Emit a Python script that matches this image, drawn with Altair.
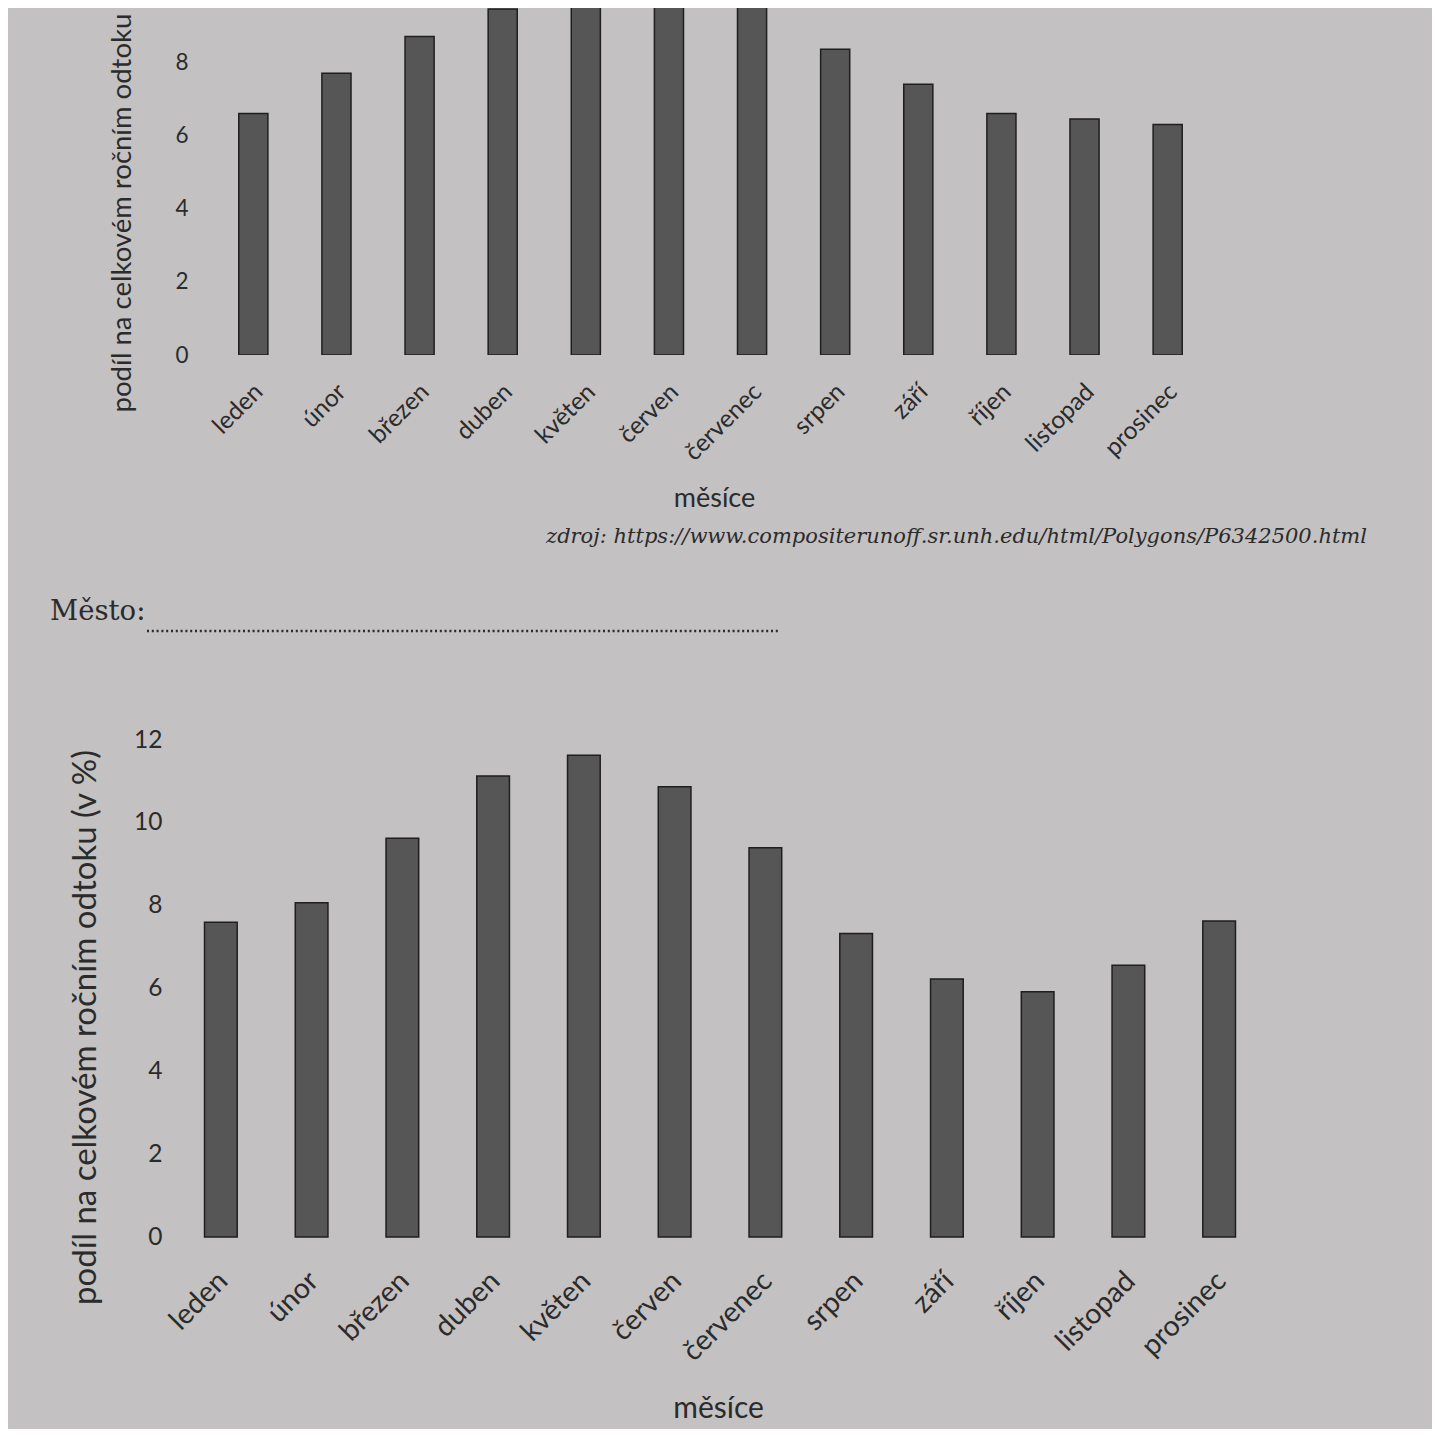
import altair as alt
import pandas as pd

# ---- data ----
months = ["leden", "únor", "březen", "duben", "květen", "červen",
          "červenec", "srpen", "září", "říjen", "listopad", "prosinec"]
top_values = [6.6, 7.7, 8.7, 9.45, 11.6, 11.4, 9.5, 8.35, 7.4, 6.6, 6.45, 6.3]
bottom_values = [7.6, 8.07, 9.63, 11.13, 11.63, 10.87, 9.4, 7.33, 6.23, 5.92, 6.56, 7.63]
top_ticks = [0, 2, 4, 6, 8]
bottom_ticks = [0, 2, 4, 6, 8, 10, 12]
top_y_title = "podíl na celkovém ročním odtoku"
bottom_y_title = "podíl na celkovém ročním odtoku (v %)"
x_title = "měsíce"
source_text = "zdroj: https://www.compositerunoff.sr.unh.edu/html/Polygons/P6342500.html"
city_label = "Město:"

# ---- styles ----
BG = "#c3c1c2"
INK = "#2b2b2b"
BAR = "#565656"
EDGE = "#1f1f1f"
FONT = "Lato"

df_top = pd.DataFrame({"month": months, "value": top_values})
df_bottom = pd.DataFrame({"month": months, "value": bottom_values})

top_bars = alt.Chart(df_top).mark_bar(
    clip=True, fill=BAR, stroke=EDGE, strokeWidth=1.5
).encode(
    x=alt.X("month:N", sort=months,
            scale=alt.Scale(paddingInner=0.65, paddingOuter=0.587),
            axis=alt.Axis(title=x_title, labelAngle=-45, labelAlign="right",
                          labelBaseline="middle", labelPadding=33, labelOffset=6,
                          labelFontSize=24.5, titleFontSize=27,
                          titleX=524, titleY=143, titleBaseline="middle",
                          titleAlign="center")),
    y=alt.Y("value:Q", scale=alt.Scale(domain=[0, 9.48], nice=False),
            axis=alt.Axis(values=top_ticks, title=top_y_title,
                          labelPadding=2, labelFontSize=22.5, titleFontSize=27.5,
                          titleX=-68, titleY=404, titleAlign="left",
                          titleBaseline="middle", titleAngle=270)),
)

src = alt.Chart(pd.DataFrame({"t": [source_text]})).mark_text(
    align="right", baseline="middle", font="DejaVu Serif", fontStyle="italic",
    fontSize=21, color=INK
).encode(text="t:N", x=alt.value(1177), y=alt.value(529))

city = alt.Chart(pd.DataFrame({"t": [city_label]})).mark_text(
    align="left", baseline="middle", font="DejaVu Serif", fontSize=27.5, color=INK
).encode(text="t:N", x=alt.value(-140), y=alt.value(604))

dots = alt.Chart(pd.DataFrame({"t": [0]})).mark_rule(
    strokeDash=[2, 2.8], strokeWidth=2.4, color=INK
).encode(x=alt.value(-43), x2=alt.value(590), y=alt.value(623))

top = alt.layer(top_bars, src, city, dots).properties(width=1041, height=347)

bottom = alt.Chart(df_bottom).mark_bar(
    fill=BAR, stroke=EDGE, strokeWidth=1.5
).encode(
    x=alt.X("month:N", sort=months,
            scale=alt.Scale(paddingInner=0.64, paddingOuter=0.16),
            axis=alt.Axis(title=x_title, labelAngle=-45, labelAlign="right",
                          labelBaseline="middle", labelPadding=39, labelOffset=2,
                          labelFontSize=28.5, titleFontSize=30,
                          titleX=528, titleY=171, titleBaseline="middle",
                          titleAlign="center")),
    y=alt.Y("value:Q", scale=alt.Scale(domain=[0, 12], nice=False),
            axis=alt.Axis(values=bottom_ticks, title=bottom_y_title,
                          labelPadding=28, labelFontSize=24.5, titleFontSize=33,
                          titleX=-105, titleY=287, titleAlign="center",
                          titleBaseline="middle", titleAngle=270)),
).properties(width=1060, height=497)

chart = alt.vconcat(top, bottom, spacing=385, bounds="flush").properties(
    padding={"left": 42, "top": 0, "right": 65, "bottom": 6},
    background=BG,
).configure(font=FONT).configure_view(
    strokeWidth=0, fill=BG
).configure_axis(
    grid=False, domain=False, ticks=False, tickSize=0,
    labelColor=INK, titleColor=INK, labelFont=FONT, titleFont=FONT,
    titleFontWeight="normal"
)

chart.save("out.html", embed_options={"renderer": "svg", "actions": False})
